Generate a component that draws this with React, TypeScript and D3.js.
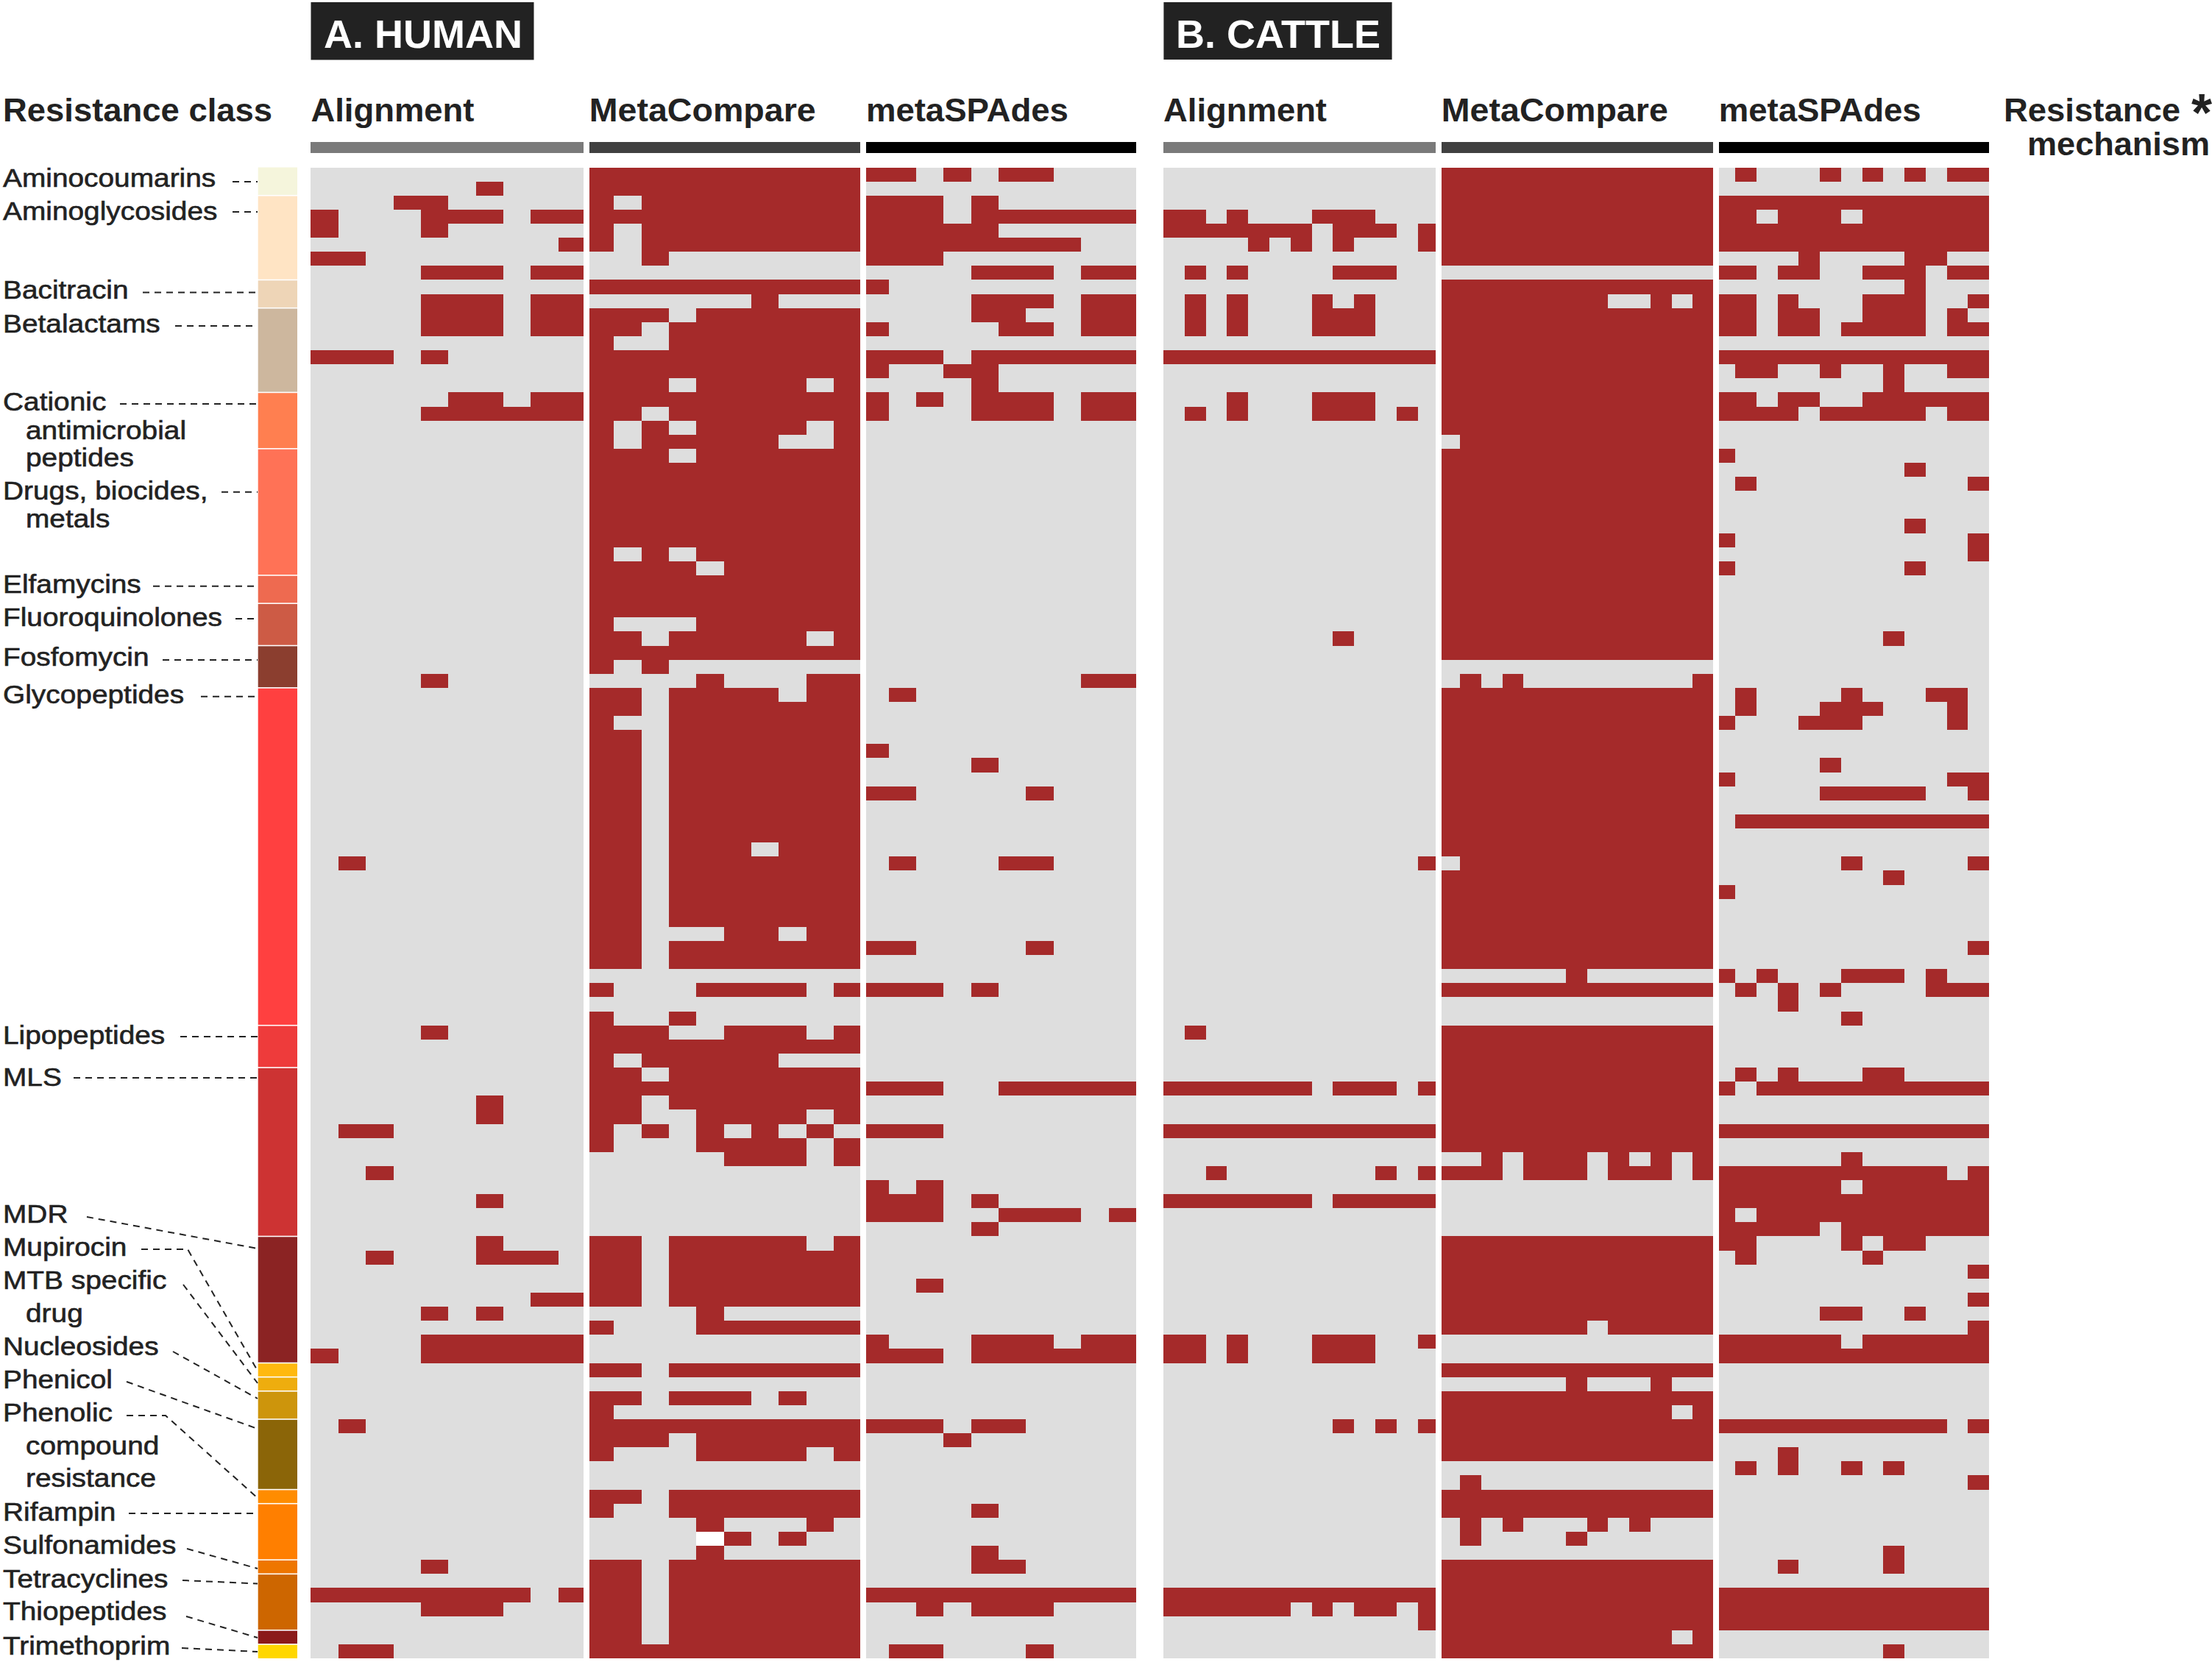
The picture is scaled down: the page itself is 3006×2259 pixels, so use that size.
import React from "react";
import * as d3 from "d3";

// filled cells per row: digits are column numbers (a, b, c = 10, 11, 12), "*" = whole row
type Cells = Record<number, string>;

const humanAlignment: Cells = {
  1: "6", 2: "34", 3: "045689", 4: "04", 5: "9", 6: "01", 7: "45689", 9: "45689", 10: "45689", 11: "45689",
  13: "0124", 16: "5689", 17: "456789", 36: "4", 49: "1", 61: "4", 66: "6", 67: "6", 68: "12", 71: "2",
  73: "6", 76: "6", 77: "2678", 80: "89", 81: "46", 83: "456789", 84: "0456789", 89: "1", 99: "4",
  101: "012345679", 102: "456", 105: "12",
};

const humanMetaCompare: Cells = {
  0: "*", 1: "*", 2: "023456789", 3: "*", 4: "023456789", 5: "023456789", 6: "2", 8: "*", 9: "6",
  10: "012456789", 11: "013456789", 12: "03456789", 13: "*", 14: "*", 15: "01245679", 16: "*",
  17: "013456789", 18: "0245679", 19: "0234569", 20: "012456789", 21: "*", 22: "*", 23: "*", 24: "*",
  25: "*", 26: "*", 27: "02456789", 28: "012356789", 29: "*", 30: "*", 31: "*", 32: "0456789",
  33: "01345679", 34: "*", 35: "02", 36: "489", 37: "01345689", 38: "013456789", 39: "03456789",
  40: "013456789", 41: "013456789", 42: "013456789", 43: "013456789", 44: "013456789", 45: "013456789",
  46: "013456789", 47: "013456789", 48: "01345789", 49: "013456789", 50: "013456789", 51: "013456789",
  52: "013456789", 53: "013456789", 54: "015689", 55: "013456789", 56: "013456789", 58: "045679",
  60: "03", 61: "0125679", 62: "*", 63: "023456", 64: "013456789", 65: "*", 66: "013456789",
  67: "0145679", 68: "02468", 69: "045679", 70: "5679", 76: "01345679", 77: "013456789", 78: "013456789",
  79: "013456789", 80: "013456789", 81: "4", 82: "0456789", 85: "013456789", 87: "013457", 88: "0",
  89: "*", 90: "012456789", 91: "045679", 94: "013456789", 95: "03456789", 96: "48", 97: "57", 98: "4",
  99: "013456789", 100: "013456789", 101: "013456789", 102: "013456789", 103: "013456789",
  104: "013456789", 105: "*",
};

const humanSpades: Cells = {
  0: "01356", 2: "0124", 3: "012456789", 4: "01234", 5: "01234567", 6: "012", 7: "45689", 8: "0",
  9: "45689", 10: "4589", 11: "05689", 13: "012456789", 14: "034", 15: "4", 16: "0245689", 17: "045689",
  36: "89", 37: "1", 41: "0", 42: "4", 44: "016", 49: "156", 55: "016", 58: "0124", 65: "01256789",
  68: "012", 72: "02", 73: "0124", 74: "0125679", 75: "4", 79: "2", 83: "045689", 84: "012456789",
  89: "01245", 90: "3", 95: "4", 98: "4", 99: "45", 101: "*", 102: "2456", 105: "126",
};

const cattleAlignment: Cells = {
  3: "013789", 4: "012345689ac", 5: "468c", 7: "1389a", 9: "1379", 10: "13789", 11: "13789", 13: "*",
  16: "3789", 17: "13789b", 33: "8", 49: "c", 61: "1", 65: "012345689ac", 68: "*", 71: "2ac",
  73: "012345689abc", 83: "013789c", 84: "013789", 89: "8ac", 101: "*", 102: "01234579ac", 103: "c",
};

const cattleMetaCompare: Cells = {
  0: "*", 1: "*", 2: "*", 3: "*", 4: "*", 5: "*", 6: "*", 8: "*", 9: "01234567ac", 10: "*", 11: "*",
  12: "*", 13: "*", 14: "*", 15: "*", 16: "*", 17: "*", 18: "*", 19: "123456789abc", 20: "*", 21: "*",
  22: "*", 23: "*", 24: "*", 25: "*", 26: "*", 27: "*", 28: "*", 29: "*", 30: "*", 31: "*", 32: "*",
  33: "*", 34: "*", 36: "13c", 37: "*", 38: "*", 39: "*", 40: "*", 41: "*", 42: "*", 43: "*", 44: "*",
  45: "*", 46: "*", 47: "*", 48: "*", 49: "123456789abc", 50: "*", 51: "*", 52: "*", 53: "*", 54: "*",
  55: "*", 56: "*", 57: "6", 58: "*", 61: "*", 62: "*", 63: "*", 64: "*", 65: "*", 66: "*", 67: "*",
  68: "*", 69: "*", 70: "24568ac", 71: "01245689ac", 76: "*", 77: "*", 78: "*", 79: "*", 80: "*", 81: "*",
  82: "012345689abc", 85: "*", 86: "6a", 87: "*", 88: "0123456789ac", 89: "*", 90: "*", 91: "*", 93: "1",
  94: "*", 95: "*", 96: "1379", 97: "16", 99: "*", 100: "*", 101: "*", 102: "*", 103: "*",
  104: "0123456789ac", 105: "*",
};

const cattleSpades: Cells = {
  0: "1579bc", 2: "*", 3: "01345789abc", 4: "*", 5: "*", 6: "49a", 7: "0134789bc", 8: "9", 9: "013789c",
  10: "0134789b", 11: "01346789bc", 13: "*", 14: "1258bc", 15: "8", 16: "0134789abc", 17: "012356789bc",
  20: "0", 21: "9", 22: "1c", 25: "9", 26: "0c", 27: "c", 28: "09", 33: "8", 37: "16ab", 38: "1567b",
  39: "0456b", 42: "5", 43: "0bc", 44: "56789c", 46: "123456789abc", 49: "6c", 50: "8", 51: "0", 55: "c",
  57: "02678a", 58: "135abc", 59: "3", 60: "6", 64: "1378", 65: "023456789abc", 68: "*", 70: "6",
  71: "0123456789ac", 72: "012345789abc", 73: "*", 74: "023456789abc", 75: "012346789abc", 76: "01689",
  77: "17", 78: "c", 80: "c", 81: "569", 82: "c", 83: "012345789abc", 84: "*", 89: "0123456789ac",
  91: "3", 92: "1368", 93: "c", 98: "8", 99: "38", 101: "*", 102: "*", 103: "*", 105: "8",
};

// the one cell in the human MetaCompare panel that is left white
const humanMetaCompareWhite = [[97, 4]];

const classNames = [
  "Aminocoumarins", "Aminoglycosides", "Bacitracin", "Betalactams", "Cationic antimicrobial peptides",
  "Drugs, biocides, metals", "Elfamycins", "Fluoroquinolones", "Fosfomycin", "Glycopeptides", "Lipopeptides",
  "MLS", "MDR", "Mupirocin", "MTB specific drug", "Nucleosides", "Phenicol", "Phenolic compound resistance",
  "Rifampin", "Sulfonamides", "Tetracyclines", "Thiopeptides", "Trimethoprim",
];
const classRowCounts = [2, 6, 2, 6, 4, 9, 2, 3, 3, 24, 3, 12, 9, 1, 1, 2, 5, 1, 4, 1, 4, 1, 1];
const classColors = [
  "#f5f5dc", "#ffe4c4", "#eed5b7", "#cdb79e", "#ff7f50", "#ff7256", "#ee6a50", "#cd5b45", "#8b3e2f", "#ff4040",
  "#ee3b3b", "#cd3333", "#8b2323", "#ffb90f", "#eead0e", "#cd950c", "#8b6508", "#ff8c00", "#ff7f00", "#ee7600",
  "#cd6600", "#8b1a1a", "#ffd700",
];

const ROWS = 106;
const RED = "#a52a2a";
const GREY = "#dedede";
const INK = "#222222";
const SANS = "'Liberation Sans'";

const rowScale = d3.scaleBand<number>().domain(d3.range(ROWS)).range([227.5, 2254]);

// lead/trail: how much of the first and last column the panel edge cuts off
const panels = [
  { title: "Alignment", titleWidth: 222, cells: humanAlignment, cols: 10, x0: 422.4, x1: 792.5, lead: 0, trail: 0.1, bar: "#7a7a7a" },
  { title: "MetaCompare", titleWidth: 308, cells: humanMetaCompare, cols: 10, x0: 800.7, x1: 1168.7, lead: 0.1, trail: 0.04, bar: "#404040" },
  { title: "metaSPAdes", titleWidth: 275, cells: humanSpades, cols: 10, x0: 1176.9, x1: 1544, lead: 0.18, trail: 0, bar: "#000000" },
  { title: "Alignment", titleWidth: 222, cells: cattleAlignment, cols: 13, x0: 1581, x1: 1951.3, lead: 0, trail: 0.14, bar: "#7a7a7a" },
  { title: "MetaCompare", titleWidth: 308, cells: cattleMetaCompare, cols: 13, x0: 1958.8, x1: 2327.5, lead: 0.12, trail: 0.06, bar: "#404040" },
  { title: "metaSPAdes", titleWidth: 275, cells: cattleSpades, cols: 13, x0: 2335.7, x1: 2703, lead: 0.22, trail: 0, bar: "#000000" },
];

// label lines with their baselines, and the dashed leader running to the strip
const labelLayout = [
  { lines: [["Aminocoumarins", 253.5]], leader: [[316, 247], [350, 247]] },
  { lines: [["Aminoglycosides", 298.5]], leader: [[316, 288], [350, 288]] },
  { lines: [["Bacitracin", 406]], leader: [[194, 397.5], [350, 397.5]] },
  { lines: [["Betalactams", 452]], leader: [[238, 443], [350, 443]] },
  { lines: [["Cationic", 558], ["antimicrobial", 596.7], ["peptides", 634]], leader: [[163, 549], [350, 549]] },
  { lines: [["Drugs, biocides,", 679], ["metals", 716.7]], leader: [[301, 668.7], [350, 668.7]] },
  { lines: [["Elfamycins", 806]], leader: [[208, 796.7], [350, 796.7]] },
  { lines: [["Fluoroquinolones", 851]], leader: [[320, 841], [350, 841]] },
  { lines: [["Fosfomycin", 905]], leader: [[221, 897], [350, 897]] },
  { lines: [["Glycopeptides", 956]], leader: [[273, 946.7], [350, 946.7]] },
  { lines: [["Lipopeptides", 1419]], leader: [[245, 1409], [350, 1409]] },
  { lines: [["MLS", 1476]], leader: [[100, 1465], [350, 1465]] },
  { lines: [["MDR", 1662]], leader: [[118, 1654], [350, 1697]] },
  { lines: [["Mupirocin", 1707]], leader: [[192, 1698], [255, 1698], [350, 1863]] },
  { lines: [["MTB specific", 1752], ["drug", 1797]], leader: [[249, 1746], [350, 1880]] },
  { lines: [["Nucleosides", 1842]], leader: [[235, 1837], [350, 1901]] },
  { lines: [["Phenicol", 1887]], leader: [[172, 1878], [350, 1942]] },
  { lines: [["Phenolic", 1932], ["compound", 1977], ["resistance", 2021]], leader: [[172, 1924], [225, 1924], [350, 2036]] },
  { lines: [["Rifampin", 2067]], leader: [[175, 2057], [350, 2057]] },
  { lines: [["Sulfonamides", 2112]], leader: [[254, 2105], [350, 2132]] },
  { lines: [["Tetracyclines", 2158]], leader: [[248, 2148], [350, 2152.5]] },
  { lines: [["Thiopeptides", 2202]], leader: [[253, 2197], [350, 2226]] },
  { lines: [["Trimethoprim", 2249]], leader: [[247, 2240], [350, 2245]] },
];

const classStarts = classRowCounts.map((_, i) => d3.sum(classRowCounts.slice(0, i)));
const leaderLine = d3.line();

const Panel = ({ panel }: { panel: (typeof panels)[number] }) => {
  const { cells, cols, x0, x1, lead, trail } = panel;
  const x = d3.scaleLinear().domain([lead, cols - trail]).range([x0, x1]).clamp(true);
  const h = rowScale.bandwidth();
  const marks: React.ReactNode[] = [];
  Object.keys(cells).forEach((key) => {
    const row = +key;
    const spec = cells[row];
    const filled = spec === "*" ? d3.range(cols) : spec.split("").map((c) => parseInt(c, 13));
    filled.forEach((c) => {
      marks.push(
        <rect key={`${row}-${c}`} x={x(c)} y={rowScale(row)} width={x(c + 1) - x(c)} height={h} fill={RED} />
      );
    });
  });
  return (
    <g>
      <g shapeRendering="crispEdges">
        <rect x={x0} y={rowScale.range()[0]} width={x1 - x0} height={rowScale.range()[1] - rowScale.range()[0]} fill={GREY} />
        {marks}
        {cells === humanMetaCompare &&
          humanMetaCompareWhite.map(([row, c]) => (
            <rect key="white" x={x(c)} y={rowScale(row)} width={x(c + 1) - x(c)} height={h} fill="#ffffff" />
          ))}
        <rect x={x0} y={193} width={x1 - x0} height={15} fill={panel.bar} />
      </g>
      <text
        x={x0}
        y={165}
        textLength={panel.titleWidth}
        lengthAdjust="spacingAndGlyphs"
        fontFamily={SANS}
        fontWeight={700}
        fontSize={44}
        fill={INK}
      >
        {panel.title}
      </text>
    </g>
  );
};

const App = () => {
  return (
    <svg width={3006} height={2259} style={{ position: "absolute", left: 0, top: 0 }}>
      <rect width={3006} height={2259} fill="#ffffff" />

      <rect x={422.5} y={3} width={303} height={78.4} fill={INK} />
      <text x={440} y={65} fontFamily={SANS} fontWeight={700} fontSize={54} fill="#ffffff">
        A. HUMAN
      </text>
      <rect x={1581.4} y={3} width={310.2} height={78} fill={INK} />
      <text x={1598} y={65} fontFamily={SANS} fontWeight={700} fontSize={54} fill="#ffffff">
        B. CATTLE
      </text>

      <text x={4} y={165} textLength={366} lengthAdjust="spacingAndGlyphs" fontFamily={SANS} fontWeight={700} fontSize={44} fill={INK}>
        Resistance class
      </text>
      <text x={2723} y={165} textLength={240} lengthAdjust="spacingAndGlyphs" fontFamily={SANS} fontWeight={700} fontSize={44} fill={INK}>
        Resistance
      </text>
      <text x={3006} y={178} textAnchor="end" fontFamily={SANS} fontWeight={700} fontSize={72} fill={INK}>
        *
      </text>
      <text x={2755} y={211} textLength={248} lengthAdjust="spacingAndGlyphs" fontFamily={SANS} fontWeight={700} fontSize={44} fill={INK}>
        mechanism
      </text>

      {classNames.map((name, i) => {
        const start = classStarts[i];
        const end = start + classRowCounts[i] - 1;
        const top = (rowScale(start) as number) + (i === 0 ? 0 : 0.8);
        const bottom = (rowScale(end) as number) + rowScale.bandwidth() - (i === classNames.length - 1 ? 0 : 0.8);
        return <rect key={name} x={350.7} y={top} width={53.3} height={bottom - top} fill={classColors[i]} />;
      })}

      {labelLayout.map((label, i) => (
        <g key={i}>
          <path
            d={leaderLine(label.leader as [number, number][]) || ""}
            fill="none"
            stroke={INK}
            strokeWidth={2}
            strokeDasharray="9 7"
          />
          {label.lines.map(([text, baseline], j) => (
            <text
              key={j}
              transform={`translate(${j === 0 ? 4 : 35},${baseline}) scale(1.11,1)`}
              fontFamily={SANS}
              fontSize={35}
              fill={INK}
              stroke={INK}
              strokeWidth={0.6}
            >
              {text}
            </text>
          ))}
        </g>
      ))}

      {panels.map((p, i) => (
        <Panel key={i} panel={p} />
      ))}
    </svg>
  );
};

export default App;
